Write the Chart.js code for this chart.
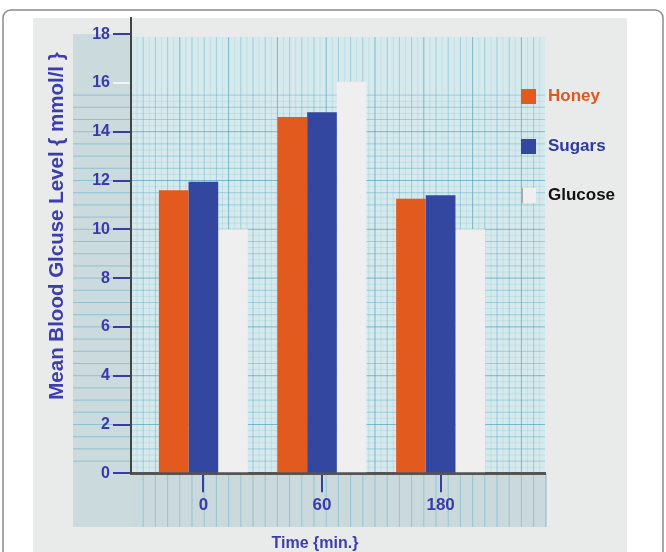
<!DOCTYPE html>
<html>
<head>
<meta charset="utf-8">
<script src="https://cdn.jsdelivr.net/npm/chart.js@4.4.1/dist/chart.umd.min.js"></script>
<style>
  html, body { margin: 0; padding: 0; background: #fff; }
  #wrap { width: 666px; height: 552px; }
</style>
</head>
<body>
<div id="wrap"><canvas id="chart" width="666" height="552"></canvas></div>
<script>
let categories = ["0", "60", "180"];
let honey = [11.6, 14.6, 11.25];
let sugars = [11.95, 14.8, 11.4];
let glucose = [10.0, 16.05, 10.0];
let yTicks = [0, 2, 4, 6, 8, 10, 12, 14, 16, 18];

let tickBlue = "#3a3aa8";
let font = "'Liberation Sans', Arial, sans-serif";

function points(values) {
  return values.map((v, i) => ({ x: i, y: v }));
}

// graph paper, panels and frame behind the axes
let backdrop = {
  id: "backdrop",
  beforeDraw(chart) {
    let ctx = chart.ctx;
    let area = chart.chartArea;
    let y = chart.scales.y;
    let step = y.getPixelForValue(0) - y.getPixelForValue(0.5);
    let base = area.bottom;
    let top15 = y.getPixelForValue(15.5);

    ctx.save();
    ctx.fillStyle = "#fff";
    ctx.fillRect(0, 0, chart.width, chart.height);

    // card
    ctx.strokeStyle = "#8a8a8a";
    ctx.lineWidth = 1.5;
    ctx.beginPath();
    ctx.roundRect(3, 10, 660, 560, 8);
    ctx.stroke();

    // light panel
    ctx.fillStyle = "#e9ebeb";
    ctx.fillRect(33, 18, 594, chart.height - 18);

    // left strip
    let stripTop = y.getPixelForValue(yTicks[yTicks.length - 1]);
    ctx.fillStyle = "#cbdadd";
    ctx.fillRect(73, stripTop, area.left - 73, 527 - stripTop);
    ctx.strokeStyle = "rgba(90,170,195,0.5)";
    ctx.lineWidth = 1;
    for (let p = base - step; p >= top15 - 1; p -= step) {
      ctx.beginPath();
      ctx.moveTo(73, p);
      ctx.lineTo(area.left, p);
      ctx.stroke();
    }

    // bottom strip
    ctx.fillStyle = "#cad9dc";
    ctx.fillRect(area.left, base, area.right + 2 - area.left, 527 - base);
    for (let p = area.left + step; p < area.right + 2; p += step) {
      ctx.strokeStyle = "rgba(90,170,195,0.45)";
      ctx.beginPath();
      ctx.moveTo(p, base);
      ctx.lineTo(p, 527);
      ctx.stroke();
    }

    // graph paper
    let gTop = stripTop + 3;
    ctx.fillStyle = "#d6e9ed";
    ctx.fillRect(area.left, gTop, area.right - area.left, base - gTop);
    // faint fine lines
    ctx.strokeStyle = "rgba(110,185,205,0.2)";
    for (let p = area.left + step / 2; p < area.right; p += step) {
      ctx.beginPath();
      ctx.moveTo(p, gTop);
      ctx.lineTo(p, base);
      ctx.stroke();
    }
    for (let p = base - step / 2; p >= top15; p -= step) {
      ctx.beginPath();
      ctx.moveTo(area.left, p);
      ctx.lineTo(area.right, p);
      ctx.stroke();
    }
    let n = 0;
    for (let p = area.left + step; p < area.right; p += step) {
      n++;
      ctx.strokeStyle = n % 4 === 0 ? "rgba(60,150,180,0.6)" : "rgba(90,170,195,0.45)";
      ctx.beginPath();
      ctx.moveTo(p, gTop);
      ctx.lineTo(p, base);
      ctx.stroke();
    }
    n = 0;
    for (let p = base - step; p >= top15 - 1; p -= step) {
      n++;
      ctx.strokeStyle = n % 4 === 0 ? "rgba(60,150,180,0.6)" : "rgba(90,170,195,0.45)";
      ctx.beginPath();
      ctx.moveTo(area.left, p);
      ctx.lineTo(area.right, p);
      ctx.stroke();
    }
    ctx.restore();
  },
};

// legend and axis titles
let labels = {
  id: "labels",
  afterDraw(chart) {
    let ctx = chart.ctx;
    ctx.save();
    let rows = [96, 146, 195];
    let textColors = ["#e0561c", "#2e3b9e", "#111111"];
    chart.data.datasets.forEach((ds, i) => {
      let cy = rows[i];
      ctx.fillStyle = ds.backgroundColor;
      ctx.fillRect(521, cy - 7, 15, 15);
      if (i === 2) {
        ctx.fillStyle = "#a8a8a8";
        ctx.fillRect(521, cy - 7, 2, 15);
      }
      ctx.fillStyle = textColors[i];
      ctx.font = "bold 17px " + font;
      ctx.textAlign = "left";
      ctx.textBaseline = "middle";
      ctx.fillText(ds.label, 548, cy);
    });

    ctx.fillStyle = "#3d3dae";
    ctx.font = "bold 16px " + font;
    ctx.textAlign = "center";
    ctx.textBaseline = "middle";
    ctx.fillText("Time {min.}", 315, 544);

    ctx.translate(57, 226);
    ctx.rotate(-Math.PI / 2);
    ctx.font = "bold 20.5px " + font;
    ctx.fillText("Mean Blood Glcuse Level { mmol/l }", 0, 0);
    ctx.restore();
  },
};

let config = {
  type: "bar",
  data: {
    datasets: [
      { label: "Honey", data: points(honey), backgroundColor: "#e35a1f" },
      { label: "Sugars", data: points(sugars), backgroundColor: "#3346a0" },
      { label: "Glucose", data: points(glucose), backgroundColor: "#efefef" },
    ],
  },
  options: {
    responsive: false,
    animation: false,
    categoryPercentage: 0.75,
    barPercentage: 1.0,
    layout: { padding: { left: 0, right: 121, top: 18, bottom: 0 } },
    plugins: { legend: { display: false }, tooltip: { enabled: false } },
    scales: {
      x: {
        type: "linear",
        min: -0.61,
        max: 2.88,
        offset: false,
        afterFit: (scale) => { scale.height = 552 - 473.3; },
        ticks: {
          stepSize: 1,
          includeBounds: false,
          color: tickBlue,
          font: { family: font, size: 17, weight: "bold" },
          padding: 3,
          callback: (v) => (categories[v] !== undefined ? categories[v] : ""),
        },
        grid: {
          offset: false,
          drawOnChartArea: false,
          drawTicks: true,
          tickLength: 19,
          tickColor: tickBlue,
          lineWidth: 2,
        },
        border: { color: "#555", width: 3 },
      },
      y: {
        min: 0,
        max: 18.66,
        afterFit: (scale) => { scale.width = 131; },
        afterBuildTicks: (scale) => { scale.ticks = yTicks.map((v) => ({ value: v })); },
        ticks: {
          color: tickBlue,
          font: { family: font, size: 16, weight: "bold" },
          padding: 3,
        },
        grid: {
          drawOnChartArea: false,
          drawTicks: true,
          tickLength: 18,
          tickColor: (c) => (c.tick && c.tick.value === 16 ? "#f4f4f4" : tickBlue),
          lineWidth: 2,
        },
        border: { color: "#444", width: 2 },
      },
    },
  },
  plugins: [backdrop, labels],
};

let chart = new Chart(document.getElementById("chart"), config);
</script>
</body>
</html>
